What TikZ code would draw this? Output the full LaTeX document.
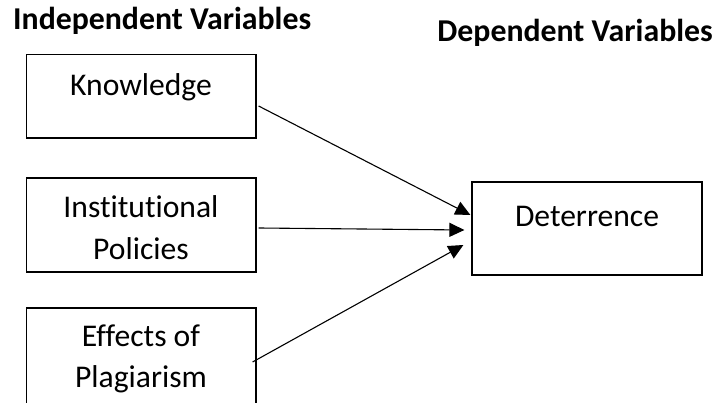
\documentclass[tikz,border=0pt]{standalone}
\usepackage{fontspec}
\setmainfont{Carlito}[Ligatures={NoCommon,NoContextual}]
\usetikzlibrary{arrows.meta,calc}
\begin{document}
\begin{tikzpicture}[x=1pt,y=-1pt,
  box/.style={draw,line width=1.2pt,inner sep=0pt},
  lbl/.style={font=\fontsize{31.6}{38}\selectfont,inner sep=0pt,anchor=base},
  ttl/.style={font=\fontsize{31.8}{38}\selectfont\bfseries,inner sep=0pt},
  conn/.style={line width=1.1pt,-{Triangle[length=15pt,width=14pt]}}]
\useasboundingbox (0,0) rectangle (716,403);
\fill[white] (0,0) rectangle (716,403);
\begin{scope}
\clip (0,0) rectangle (716,403);
\node[ttl,anchor=base west] (tind) at (13,30) {Independent Variables};
\node[ttl,anchor=base east] (tdep) at (713,42) {Dependent Variables};
\node[box,minimum width=229.5pt,minimum height=83.5pt] (know) at (141.25,96.25) {};
\node[box,minimum width=229.5pt,minimum height=94pt] (inst) at (141.25,225) {};
\node[box,minimum width=229.5pt,minimum height=96pt] (eff) at (141.25,356) {};
\node[box,minimum width=230pt,minimum height=93pt] (det) at (587,228.5) {};
\node[lbl] (tknow) at (141,96) {Knowledge};
\node[lbl] (tinst1) at (141,218) {Institutional};
\node[lbl] (tinst2) at (141,260) {Policies};
\node[lbl] (teff1) at (141,347) {Effects of};
\node[lbl] (tdet) at (587,227) {Deterrence};
\end{scope}
\begin{scope}
\clip (0,0) rectangle (716,393);
\node[lbl] (teff2) at (141,388) {Plagiarism};
\end{scope}
\draw[conn] ($(know.east)+(2,9.75)$) -- ($(det.west)+(-1,-13.5)$);
\draw[conn] ($(inst.east)+(2,3)$) -- ($(det.west)+(-7,1.5)$);
\draw[conn] ($(eff.east)+(-4,6)$) -- ($(det.west)+(-8,16.5)$);
\end{tikzpicture}
\end{document}
